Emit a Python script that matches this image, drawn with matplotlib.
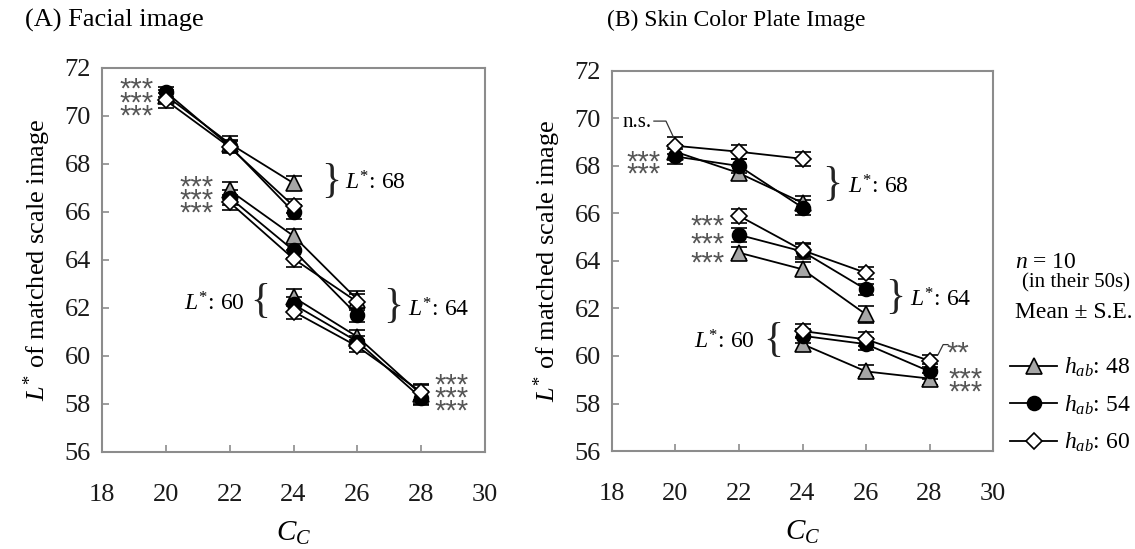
import matplotlib
matplotlib.use("Agg")
import matplotlib.pyplot as plt
from matplotlib.lines import Line2D
from matplotlib.transforms import offset_copy

plt.rcParams['font.family'] = ['Liberation Serif', 'DejaVu Serif']
plt.rcParams['mathtext.fontset'] = 'custom'
plt.rcParams['mathtext.rm'] = 'Liberation Serif'
plt.rcParams['mathtext.it'] = 'Liberation Serif:italic'

# C_C values measured for each L* level (68, 64, 60)
cc_by_level = [[20, 22, 24], [22, 24, 26], [24, 26, 28]]
level_names = ["68", "64", "60"]

# (A) Facial image: mean L* of matched scale image, per hue angle
face_h48 = [[70.85, 68.85, 67.2], [66.9, 65.0, 62.35], [62.45, 60.8, 58.4]]
face_h54 = [[71.0, 68.75, 66.0], [66.6, 64.4, 61.7], [62.15, 60.6, 58.25]]
face_h60 = [[70.65, 68.7, 66.25], [66.4, 64.05, 62.25], [61.85, 60.4, 58.5]]
face_h48_se = [[0.25, 0.3, 0.3], [0.35, 0.3, 0.35], [0.35, 0.3, 0.4]]
face_h54_se = [[0.2, 0.25, 0.3], [0.3, 0.3, 0.3], [0.3, 0.25, 0.3]]
face_h60_se = [[0.3, 0.25, 0.3], [0.3, 0.35, 0.35], [0.3, 0.25, 0.35]]

# (B) Skin color plate image
plate_h48 = [[68.6, 67.7, 66.45], [64.35, 63.65, 61.75], [60.5, 59.35, 59.05]]
plate_h54 = [[68.4, 68.0, 66.25], [65.1, 64.4, 62.8], [60.85, 60.5, 59.35]]
plate_h60 = [[68.85, 68.6, 68.3], [65.9, 64.45, 63.5], [61.05, 60.7, 59.8]]
plate_h48_se = [[0.3, 0.3, 0.3], [0.25, 0.3, 0.35], [0.3, 0.25, 0.25]]
plate_h54_se = [[0.3, 0.3, 0.3], [0.3, 0.3, 0.25], [0.3, 0.25, 0.3]]
plate_h60_se = [[0.35, 0.3, 0.3], [0.3, 0.3, 0.25], [0.3, 0.3, 0.25]]

hue_labels = [r"$h_{ab}$: 48", r"$h_{ab}$: 54", r"$h_{ab}$: 60"]
x_ticks = [18, 20, 22, 24, 26, 28, 30]
y_ticks = [56, 58, 60, 62, 64, 66, 68, 70, 72]

hue_styles = [
    dict(marker='^', mfc='#a6a6a6', ms=11),
    dict(marker='o', mfc='black', ms=10),
    dict(marker='D', mfc='white', ms=8),
]
spine_grey = '#8c8c8c'
star_grey = '#555555'
star_size = 21

fig = plt.figure(figsize=(11.35, 5.49), dpi=100)
ax_a = fig.add_axes([0.0899, 0.1767, 0.3374, 0.6995])
ax_b = fig.add_axes([0.5392, 0.1785, 0.3357, 0.6922])


def draw_panel(ax, series, errors):
    for vals, errs, style in zip(series, errors, hue_styles):
        for cc, v, e in zip(cc_by_level, vals, errs):
            ax.errorbar(cc, v, yerr=e, color='black', lw=1.3, elinewidth=1.2,
                        capsize=6, capthick=1.6, mec='black', mew=1.2, **style)


def style_axes(ax):
    ax.set_xlim(18, 30)
    ax.set_ylim(56, 72)
    ax.set_xticks(x_ticks)
    ax.set_yticks(y_ticks)
    for s in ax.spines.values():
        s.set_color(spine_grey)
        s.set_linewidth(1.5)
    ax.tick_params(direction='in', length=5, width=1.2, color=spine_grey,
                   labelsize=19, labelcolor='#1a1a1a')
    ax.tick_params(axis='x', pad=23)
    ax.tick_params(axis='y', pad=8)
    ax.set_xlabel(r"$C_C$", fontsize=21, labelpad=10)
    ax.set_ylabel(r"$L^{*}$ of matched scale image", fontsize=19, labelpad=8)


def stars(ax, x, y_top, s, rows=1, row_px=11):
    # stacked significance marks; y_top is the centre of the first row.
    # a multi-line text sits on the baseline of its last line, so shift it
    # down by the extra rows
    em = star_size * 100 / 72
    spacing = row_px / (1.14 * em)
    dy_pt = -0.575 * star_size - (rows - 1) * row_px * 0.72
    tr = offset_copy(ax.transData, fig=fig, y=dy_pt, units='points')
    ax.text(x, y_top, "\n".join([s] * rows), transform=tr, ha='center',
            va='baseline', fontsize=star_size, family='Liberation Sans',
            color=star_grey, linespacing=spacing)


def brace(ax, x, y, ch):
    ax.text(x, y, ch, fontsize=30, ha='center', va='center', color='#222222')


def level_label(ax, x, y, name, ha):
    ax.text(x, y, r"$L^{*}$: " + name, fontsize=17, ha=ha, va='center')


draw_panel(ax_a, [face_h48, face_h54, face_h60],
           [face_h48_se, face_h54_se, face_h60_se])
draw_panel(ax_b, [plate_h48, plate_h54, plate_h60],
           [plate_h48_se, plate_h54_se, plate_h60_se])
style_axes(ax_a)
style_axes(ax_b)

# significance marks, panel A
stars(ax_a, 19.07, 71.26, "***", rows=3, row_px=11)
stars(ax_a, 20.95, 67.19, "***", rows=3, row_px=10.5)
stars(ax_a, 28.94, 58.91, "***", rows=3, row_px=10.5)

brace(ax_a, 25.18, 67.25, "}")
level_label(ax_a, 25.62, 67.2, level_names[0], 'left')
brace(ax_a, 27.12, 62.06, "}")
level_label(ax_a, 27.59, 61.94, level_names[1], 'left')
brace(ax_a, 22.95, 62.27, "{")
level_label(ax_a, 22.48, 62.19, level_names[2], 'right')

# significance marks, panel B
ax_b.text(18.79, 69.85, "n.s.", fontsize=15, ha='center', va='center')
ax_b.plot([19.32, 19.70, 19.92], [69.89, 69.89, 69.26], color='#333333', lw=0.9)
stars(ax_b, 18.98, 68.41, "***", rows=2, row_px=10)
stars(ax_b, 21.02, 65.84, "***", rows=3, row_px=18.5)
stars(ax_b, 28.9, 60.48, "**")
ax_b.plot([28.27, 28.43, 28.58], [60.06, 60.48, 60.48], color='#333333', lw=0.9)
stars(ax_b, 29.12, 59.26, "***", rows=2, row_px=10)

brace(ax_b, 24.93, 67.23, "}")
level_label(ax_b, 25.43, 67.1, level_names[0], 'left')
brace(ax_b, 26.91, 62.46, "}")
level_label(ax_b, 27.39, 62.38, level_names[1], 'left')
brace(ax_b, 23.07, 60.65, "{")
level_label(ax_b, 22.5, 60.6, level_names[2], 'right')

# panel titles
fig.text(25 / 1135, 1 - 20 / 549, "(A) Facial image", fontsize=19, va='center')
fig.text(607 / 1135, 1 - 20 / 549, "(B) Skin Color Plate Image", fontsize=17, va='center')

# sample info and legend
fig.text(1015 / 1135, 1 - 263 / 549, r"$n$ = 10", fontsize=17, va='center')
fig.text(1022 / 1135, 1 - 283 / 549, "(in their 50s)", fontsize=15, va='center')
fig.text(1015 / 1135, 1 - 313 / 549, "Mean ± S.E.", fontsize=17, va='center')

handles = [Line2D([], [], color='black', lw=1.3, mec='black', mew=1.2, **st)
           for st in hue_styles]
fig.legend(handles, hue_labels, loc='upper left',
           bbox_to_anchor=(1010 / 1135, 1 - 356 / 549), frameon=False,
           fontsize=17, handlelength=2.0, handletextpad=0.3,
           labelspacing=0.6, borderpad=0, borderaxespad=0)

fig.savefig("out.png", dpi=100)
